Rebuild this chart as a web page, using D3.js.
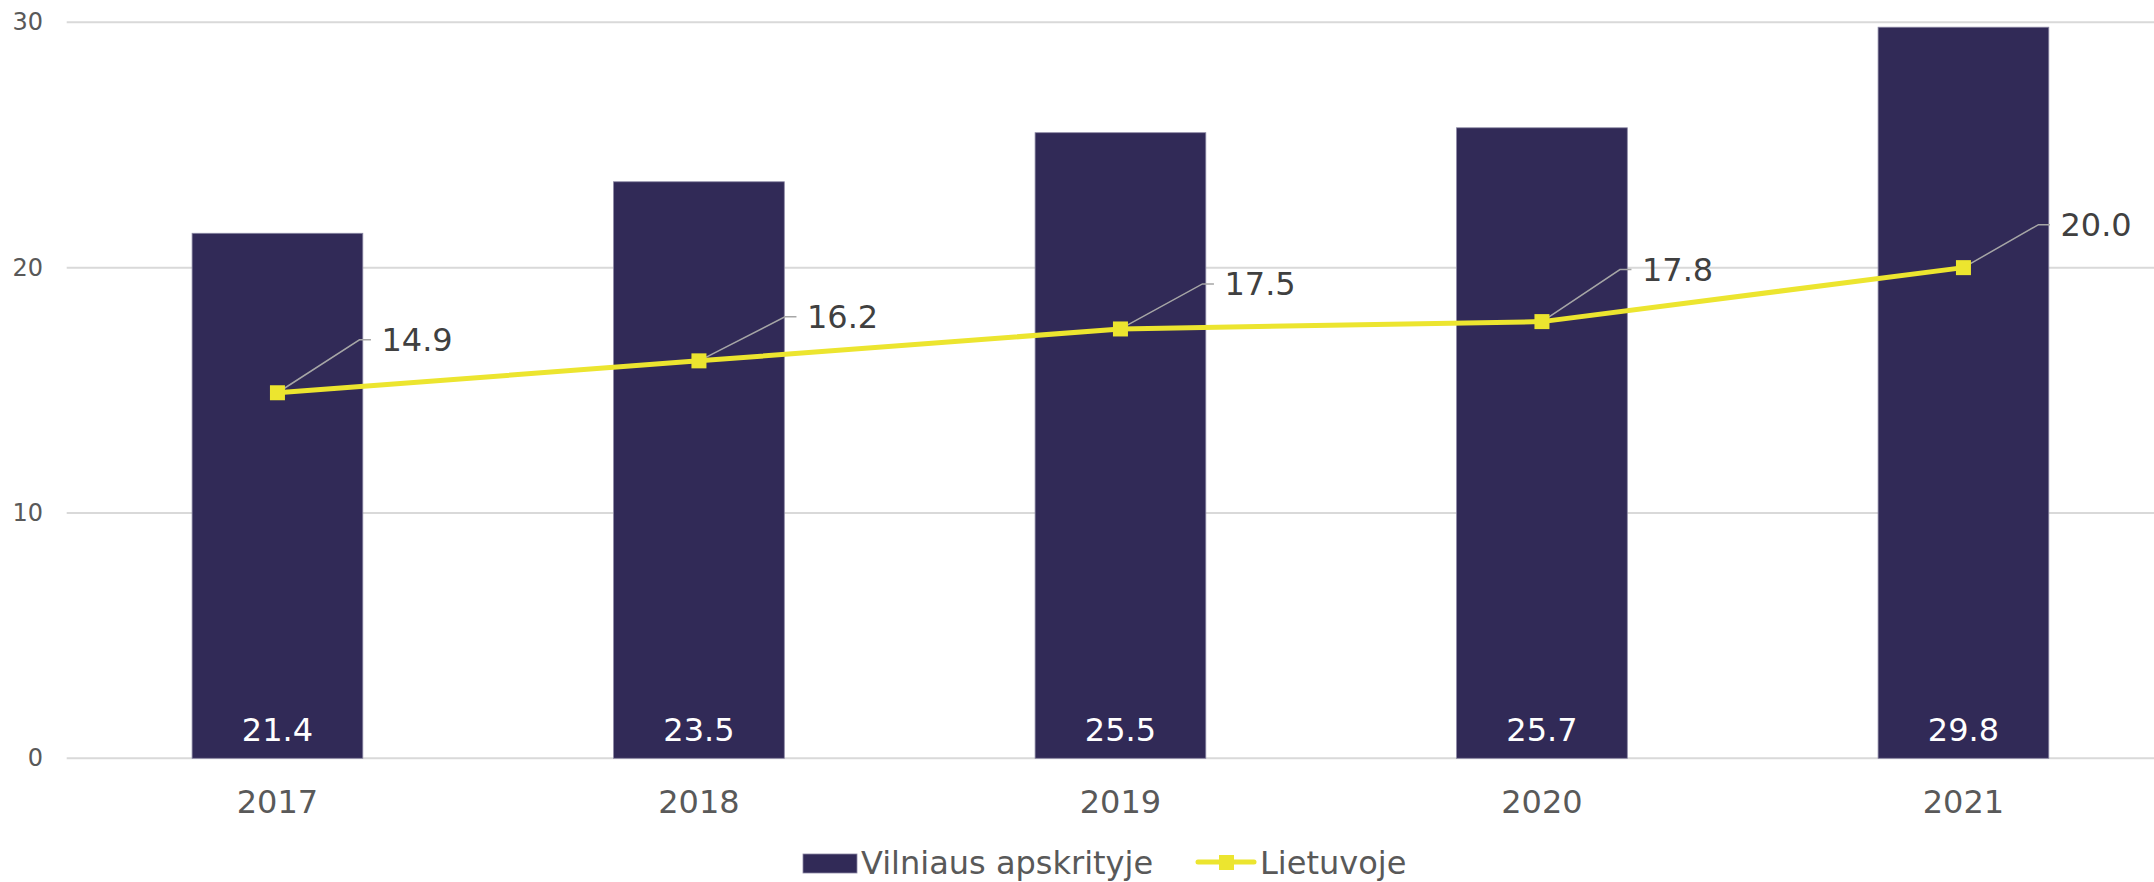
<!DOCTYPE html>
<html>
<head>
<meta charset="utf-8">
<script src="https://cdn.jsdelivr.net/npm/d3@7"></script>
<style>
  html, body { margin: 0; padding: 0; background: #ffffff; }
  svg { display: block; }
  text { font-family: "DejaVu Sans", Verdana, sans-serif; }
</style>
</head>
<body>
<svg id="chart" width="2154" height="882"></svg>
<script>
// ---- data ----
const years = ["2017", "2018", "2019", "2020", "2021"];
const vilniusValues = [21.4, 23.5, 25.5, 25.7, 29.8];
const lithuaniaValues = [14.9, 16.2, 17.5, 17.8, 20.0];
const yTicks = [0, 10, 20, 30];
const seriesNames = ["Vilniaus apskrityje", "Lietuvoje"];

// ---- layout (not data) ----
const W = 2154, H = 882;
const plotLeft = 66.7, plotRight = 2174.2, plotTop = 22.3, plotBottom = 758.3;
// leader-line elbow offsets of line labels, in pixels
const labelOffsets = [[82, -53], [86, -44], [82, -45], [78, -52], [75, -43]];

const barColor = "#312a57";
const lineColor = "#ece52f";

const svg = d3.select("#chart");

const x = d3.scaleBand().domain(years).range([plotLeft, plotRight]).paddingInner(0.595).paddingOuter(0.2975);
const y = d3.scaleLinear().domain([0, 30]).range([plotBottom, plotTop]);

// gridlines
svg.append("g").selectAll("line").data(yTicks).join("line")
  .attr("x1", plotLeft).attr("x2", W)
  .attr("y1", d => y(d)).attr("y2", d => y(d))
  .attr("stroke", "#d9d9d9").attr("stroke-width", 2);

// y axis labels
const yAxis = d3.axisLeft(y).tickValues(yTicks).tickSize(0).tickPadding(0).tickFormat(d3.format("d"));
const gy = svg.append("g").attr("transform", `translate(43,0)`).call(yAxis);
gy.select(".domain").remove();
gy.selectAll("text").attr("font-size", 24).attr("fill", "#595959")
  .style("font-family", '"DejaVu Sans", Verdana, sans-serif');

// bars
svg.append("g").selectAll("rect").data(years).join("rect")
  .attr("x", d => x(d))
  .attr("y", (d, i) => y(vilniusValues[i]))
  .attr("width", x.bandwidth())
  .attr("height", (d, i) => y(0) - y(vilniusValues[i]))
  .attr("fill", barColor)
  .attr("stroke", "#8a86a3").attr("stroke-width", 0.8);

// bar value labels
svg.append("g").selectAll("text").data(years).join("text")
  .attr("x", d => x(d) + x.bandwidth() / 2)
  .attr("y", y(0) - 17.5)
  .attr("text-anchor", "middle")
  .attr("font-size", 32)
  .attr("fill", "#ffffff")
  .text((d, i) => vilniusValues[i].toFixed(1));

// x axis labels
const xAxis = d3.axisBottom(x).tickSize(0).tickPadding(0);
const gx = svg.append("g").attr("transform", `translate(0,${plotBottom})`).call(xAxis);
gx.select(".domain").remove();
gx.selectAll("text").attr("font-size", 32).attr("fill", "#595959")
  .attr("dy", null).attr("y", 55)
  .style("font-family", '"DejaVu Sans", Verdana, sans-serif');

// line
const cx = d => x(d) + x.bandwidth() / 2;
const line = d3.line().x((d, i) => cx(years[i])).y(d => y(d));
svg.append("path").datum(lithuaniaValues)
  .attr("d", line)
  .attr("fill", "none")
  .attr("stroke", lineColor)
  .attr("stroke-width", 5)
  .attr("stroke-linejoin", "round");

// leader lines + labels
const lab = svg.append("g");
lithuaniaValues.forEach((v, i) => {
  const px = cx(years[i]), py = y(v);
  const [dx, dy] = labelOffsets[i];
  lab.append("polyline")
    .attr("points", `${px},${py} ${px + dx},${py + dy} ${px + dx + 11.5},${py + dy}`)
    .attr("fill", "none").attr("stroke", "#a6a6a6").attr("stroke-width", 1.5);
  lab.append("text")
    .attr("x", px + dx + 22)
    .attr("y", py + dy)
    .attr("dy", "0.36em")
    .attr("font-size", 32)
    .attr("fill", "#404040")
    .text(v.toFixed(1));
});

// markers
svg.append("g").selectAll("rect").data(lithuaniaValues).join("rect")
  .attr("x", (d, i) => cx(years[i]) - 7.5)
  .attr("y", d => y(d) - 7.5)
  .attr("width", 15).attr("height", 15)
  .attr("fill", lineColor);

// legend
const lg = svg.append("g");
lg.append("rect").attr("x", 803).attr("y", 854).attr("width", 54).attr("height", 19)
  .attr("fill", barColor).attr("stroke", "#8a86a3").attr("stroke-width", 0.8);
lg.append("text").attr("x", 861).attr("y", 874).attr("font-size", 32).attr("fill", "#595959").text(seriesNames[0]);
lg.append("line").attr("x1", 1198).attr("x2", 1254).attr("y1", 862).attr("y2", 862)
  .attr("stroke", lineColor).attr("stroke-width", 5).attr("stroke-linecap", "round");
lg.append("rect").attr("x", 1219).attr("y", 855).attr("width", 15).attr("height", 15).attr("fill", lineColor);
lg.append("text").attr("x", 1260).attr("y", 874).attr("font-size", 32).attr("fill", "#595959").text(seriesNames[1]);
</script>
</body>
</html>
